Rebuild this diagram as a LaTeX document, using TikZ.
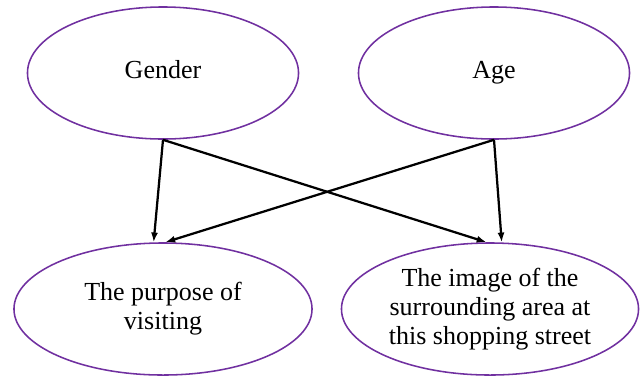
\documentclass[tikz,border=0pt]{standalone}
\usepackage{fontspec}
\setmainfont{Liberation Serif}
\newfontfamily\ovalfont{Liberation Serif}
\usetikzlibrary{shapes.geometric,arrows.meta}
\definecolor{ovalpurple}{HTML}{7030A0}
\begin{document}
\begin{tikzpicture}[x=0.025cm, y=-0.025cm,
    oval/.style={ellipse, draw=ovalpurple, line width=1.1pt, inner sep=0pt,
      minimum height=3.3cm, align=center,
      font=\ovalfont\fontsize{18.5}{20.6}\selectfont},
    arr/.style={-{Latex[length=7pt,width=5pt]}, line width=1.6pt}]
      \useasboundingbox (0,0) rectangle (642,377);
      \node[oval, minimum width=6.775cm] (gender) at (163,73){Gender\strut};
      \node[oval, minimum width=6.775cm] (age) at (494,73){Age\strut};
      \node[oval, minimum width=7.45cm] (purpose) at (163,309){The purpose of\\visiting};
      \node[oval, minimum width=7.425cm] (image) at (490,309){The image of the\\surrounding area at\\this shopping street};
      \draw[arr](gender.south) -- (purpose.98.7);
      \draw[arr](gender.south) -- (image.93.5);
      \draw[arr](age.south) -- (purpose.88.3);
      \draw[arr](age.south) -- (image.80.5);
    \end{tikzpicture}
\end{document}
